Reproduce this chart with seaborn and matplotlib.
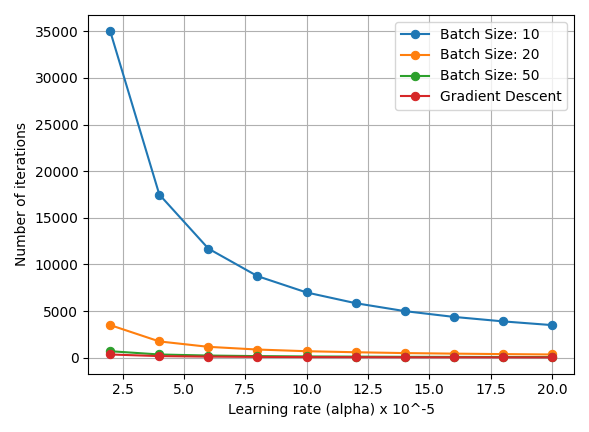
import matplotlib
matplotlib.use("Agg")
import matplotlib.pyplot as plt
import seaborn as sns
import pandas as pd

alphas = [2, 4, 6, 8, 10, 12, 14, 16, 18, 20]
batch_10 = [35000, 17500, 11700, 8750, 7000, 5850, 5000, 4380, 3900, 3500]
batch_20 = [3500, 1750, 1170, 880, 700, 590, 500, 440, 390, 350]
batch_50 = [700, 350, 235, 175, 140, 120, 100, 90, 80, 70]
grad_desc = [350, 175, 120, 90, 70, 60, 50, 45, 40, 35]
labels = ["Batch Size: 10", "Batch Size: 20", "Batch Size: 50", "Gradient Descent"]

rows = []
for lab, vals in zip(labels, [batch_10, batch_20, batch_50, grad_desc]):
    for a, v in zip(alphas, vals):
        rows.append({"alpha": a, "iters": v, "series": lab})
df = pd.DataFrame(rows)

fig, ax = plt.subplots(figsize=(5.89, 4.32), dpi=100)
sns.lineplot(data=df, x="alpha", y="iters", hue="series", marker="o",
             markeredgecolor=None, markersize=6, ax=ax, palette="tab10")
ax.set_xlabel("Learning rate (alpha) x 10^-5")
ax.set_ylabel("Number of iterations")
ax.grid(True)
ax.legend(title=None, loc="upper right")
plt.tight_layout()
fig.savefig("out.png", dpi=100)
